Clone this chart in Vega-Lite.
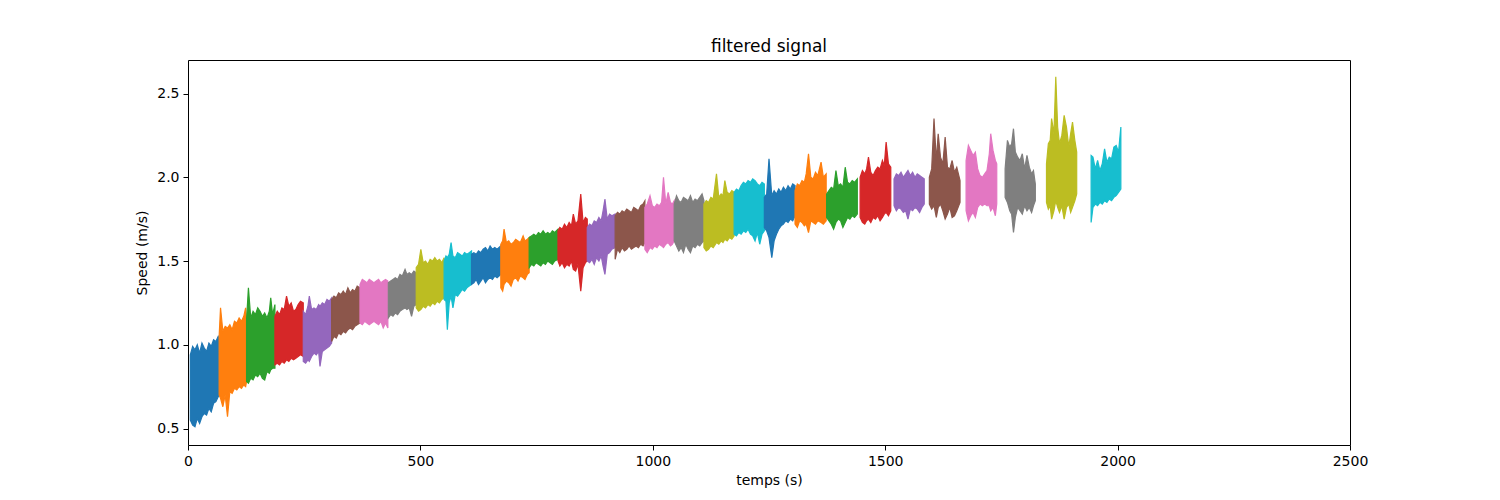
{
  "$schema": "https://vega.github.io/schema/vega-lite/v6.json",
  "autosize": {"type": "none"},
  "padding": {"left": 188, "top": 60, "right": 150, "bottom": 55},
  "width": 1162,
  "height": 385,
  "background": "white",
  "title": {"text": "filtered signal", "anchor": "middle"},
  "data": {
    "values": [
      {"s":1,"t":5,"lo":0.55,"hi":0.94},{"s":1,"t":10,"lo":0.52,"hi":0.99},{"s":1,"t":15,"lo":0.51,"hi":0.97},{"s":1,"t":20,"lo":0.56,"hi":1.0},{"s":1,"t":25,"lo":0.53,"hi":0.95},{"s":1,"t":30,"lo":0.57,"hi":1.01},{"s":1,"t":35,"lo":0.59,"hi":0.98},{"s":1,"t":40,"lo":0.58,"hi":0.96},{"s":1,"t":45,"lo":0.62,"hi":1.01},{"s":1,"t":50,"lo":0.6,"hi":0.99},{"s":1,"t":55,"lo":0.65,"hi":1.03},{"s":1,"t":60,"lo":0.66,"hi":1.02},{"s":1,"t":65,"lo":0.69,"hi":1.05},{"s":1,"t":67,"lo":0.7,"hi":1.04},
      {"s":2,"t":67,"lo":0.7,"hi":1.05},{"s":2,"t":70,"lo":0.68,"hi":1.22},{"s":2,"t":75,"lo":0.63,"hi":1.08},{"s":2,"t":80,"lo":0.7,"hi":1.11},{"s":2,"t":85,"lo":0.57,"hi":1.1},{"s":2,"t":90,"lo":0.72,"hi":1.12},{"s":2,"t":95,"lo":0.71,"hi":1.09},{"s":2,"t":100,"lo":0.74,"hi":1.14},{"s":2,"t":105,"lo":0.73,"hi":1.13},{"s":2,"t":110,"lo":0.75,"hi":1.16},{"s":2,"t":115,"lo":0.74,"hi":1.14},{"s":2,"t":120,"lo":0.76,"hi":1.17},{"s":2,"t":124,"lo":0.75,"hi":1.22},{"s":2,"t":126,"lo":0.78,"hi":1.15},
      {"s":3,"t":126,"lo":0.78,"hi":1.15},{"s":3,"t":130,"lo":0.77,"hi":1.34},{"s":3,"t":135,"lo":0.8,"hi":1.16},{"s":3,"t":140,"lo":0.79,"hi":1.2},{"s":3,"t":145,"lo":0.82,"hi":1.18},{"s":3,"t":150,"lo":0.81,"hi":1.22},{"s":3,"t":155,"lo":0.83,"hi":1.2},{"s":3,"t":160,"lo":0.8,"hi":1.17},{"s":3,"t":165,"lo":0.79,"hi":1.19},{"s":3,"t":170,"lo":0.84,"hi":1.16},{"s":3,"t":175,"lo":0.83,"hi":1.2},{"s":3,"t":178,"lo":0.85,"hi":1.28},{"s":3,"t":182,"lo":0.86,"hi":1.18},{"s":3,"t":187,"lo":0.86,"hi":1.24},
      {"s":4,"t":187,"lo":0.88,"hi":1.17},{"s":4,"t":192,"lo":0.89,"hi":1.2},{"s":4,"t":197,"lo":0.88,"hi":1.18},{"s":4,"t":202,"lo":0.9,"hi":1.22},{"s":4,"t":207,"lo":0.89,"hi":1.21},{"s":4,"t":212,"lo":0.91,"hi":1.29},{"s":4,"t":217,"lo":0.9,"hi":1.23},{"s":4,"t":222,"lo":0.92,"hi":1.25},{"s":4,"t":227,"lo":0.91,"hi":1.2},{"s":4,"t":232,"lo":0.92,"hi":1.21},{"s":4,"t":237,"lo":0.93,"hi":1.24},{"s":4,"t":242,"lo":0.94,"hi":1.26},{"s":4,"t":248,"lo":0.93,"hi":1.25},
      {"s":5,"t":248,"lo":0.9,"hi":1.2},{"s":5,"t":253,"lo":0.89,"hi":1.18},{"s":5,"t":258,"lo":0.91,"hi":1.23},{"s":5,"t":261,"lo":0.9,"hi":1.29},{"s":5,"t":266,"lo":0.93,"hi":1.21},{"s":5,"t":271,"lo":0.95,"hi":1.22},{"s":5,"t":276,"lo":0.94,"hi":1.21},{"s":5,"t":281,"lo":0.96,"hi":1.24},{"s":5,"t":284,"lo":0.87,"hi":1.23},{"s":5,"t":289,"lo":0.96,"hi":1.25},{"s":5,"t":294,"lo":0.97,"hi":1.24},{"s":5,"t":299,"lo":0.98,"hi":1.27},{"s":5,"t":304,"lo":0.99,"hi":1.26},{"s":5,"t":309,"lo":1.01,"hi":1.28},
      {"s":6,"t":309,"lo":1.02,"hi":1.27},{"s":6,"t":314,"lo":1.05,"hi":1.29},{"s":6,"t":319,"lo":1.04,"hi":1.28},{"s":6,"t":324,"lo":1.07,"hi":1.31},{"s":6,"t":329,"lo":1.06,"hi":1.3},{"s":6,"t":334,"lo":1.08,"hi":1.32},{"s":6,"t":339,"lo":1.07,"hi":1.3},{"s":6,"t":344,"lo":1.09,"hi":1.34},{"s":6,"t":349,"lo":1.1,"hi":1.31},{"s":6,"t":354,"lo":1.09,"hi":1.33},{"s":6,"t":359,"lo":1.11,"hi":1.32},{"s":6,"t":364,"lo":1.12,"hi":1.35},{"s":6,"t":370,"lo":1.13,"hi":1.34},
      {"s":7,"t":370,"lo":1.13,"hi":1.36},{"s":7,"t":375,"lo":1.12,"hi":1.39},{"s":7,"t":380,"lo":1.14,"hi":1.38},{"s":7,"t":385,"lo":1.13,"hi":1.37},{"s":7,"t":390,"lo":1.12,"hi":1.39},{"s":7,"t":395,"lo":1.13,"hi":1.38},{"s":7,"t":400,"lo":1.14,"hi":1.37},{"s":7,"t":405,"lo":1.13,"hi":1.38},{"s":7,"t":410,"lo":1.12,"hi":1.39},{"s":7,"t":415,"lo":1.14,"hi":1.37},{"s":7,"t":420,"lo":1.1,"hi":1.38},{"s":7,"t":425,"lo":1.13,"hi":1.39},{"s":7,"t":430,"lo":1.1,"hi":1.38},
      {"s":8,"t":431,"lo":1.16,"hi":1.37},{"s":8,"t":436,"lo":1.18,"hi":1.38},{"s":8,"t":441,"lo":1.17,"hi":1.39},{"s":8,"t":446,"lo":1.19,"hi":1.4},{"s":8,"t":451,"lo":1.18,"hi":1.39},{"s":8,"t":456,"lo":1.2,"hi":1.42},{"s":8,"t":461,"lo":1.21,"hi":1.41},{"s":8,"t":467,"lo":1.22,"hi":1.45},{"s":8,"t":471,"lo":1.21,"hi":1.42},{"s":8,"t":476,"lo":1.22,"hi":1.43},{"s":8,"t":481,"lo":1.17,"hi":1.42},{"s":8,"t":486,"lo":1.23,"hi":1.44},{"s":8,"t":491,"lo":1.24,"hi":1.43},
      {"s":9,"t":491,"lo":1.22,"hi":1.46},{"s":9,"t":496,"lo":1.2,"hi":1.48},{"s":9,"t":501,"lo":1.21,"hi":1.57},{"s":9,"t":506,"lo":1.23,"hi":1.49},{"s":9,"t":511,"lo":1.22,"hi":1.5},{"s":9,"t":516,"lo":1.24,"hi":1.48},{"s":9,"t":521,"lo":1.23,"hi":1.51},{"s":9,"t":526,"lo":1.25,"hi":1.5},{"s":9,"t":531,"lo":1.24,"hi":1.52},{"s":9,"t":536,"lo":1.26,"hi":1.5},{"s":9,"t":541,"lo":1.25,"hi":1.51},{"s":9,"t":546,"lo":1.27,"hi":1.49},{"s":9,"t":551,"lo":1.28,"hi":1.52},
      {"s":10,"t":551,"lo":1.27,"hi":1.5},{"s":10,"t":555,"lo":1.26,"hi":1.53},{"s":10,"t":558,"lo":1.09,"hi":1.52},{"s":10,"t":562,"lo":1.25,"hi":1.54},{"s":10,"t":566,"lo":1.29,"hi":1.61},{"s":10,"t":570,"lo":1.22,"hi":1.53},{"s":10,"t":575,"lo":1.3,"hi":1.52},{"s":10,"t":580,"lo":1.29,"hi":1.55},{"s":10,"t":585,"lo":1.31,"hi":1.54},{"s":10,"t":590,"lo":1.33,"hi":1.53},{"s":10,"t":595,"lo":1.32,"hi":1.55},{"s":10,"t":600,"lo":1.34,"hi":1.54},{"s":10,"t":605,"lo":1.35,"hi":1.55},{"s":10,"t":610,"lo":1.36,"hi":1.56},
      {"s":11,"t":610,"lo":1.36,"hi":1.54},{"s":11,"t":615,"lo":1.37,"hi":1.55},{"s":11,"t":620,"lo":1.39,"hi":1.54},{"s":11,"t":625,"lo":1.36,"hi":1.56},{"s":11,"t":630,"lo":1.38,"hi":1.55},{"s":11,"t":635,"lo":1.4,"hi":1.57},{"s":11,"t":640,"lo":1.37,"hi":1.58},{"s":11,"t":645,"lo":1.39,"hi":1.56},{"s":11,"t":650,"lo":1.4,"hi":1.59},{"s":11,"t":655,"lo":1.39,"hi":1.57},{"s":11,"t":660,"lo":1.41,"hi":1.58},{"s":11,"t":665,"lo":1.4,"hi":1.57},{"s":11,"t":673,"lo":1.42,"hi":1.59},
      {"s":12,"t":673,"lo":1.34,"hi":1.6},{"s":12,"t":677,"lo":1.32,"hi":1.62},{"s":12,"t":680,"lo":1.36,"hi":1.69},{"s":12,"t":685,"lo":1.38,"hi":1.61},{"s":12,"t":690,"lo":1.37,"hi":1.62},{"s":12,"t":695,"lo":1.35,"hi":1.6},{"s":12,"t":700,"lo":1.39,"hi":1.61},{"s":12,"t":705,"lo":1.4,"hi":1.63},{"s":12,"t":710,"lo":1.38,"hi":1.62},{"s":12,"t":715,"lo":1.41,"hi":1.61},{"s":12,"t":721,"lo":1.4,"hi":1.65},{"s":12,"t":725,"lo":1.39,"hi":1.62},{"s":12,"t":730,"lo":1.42,"hi":1.63},{"s":12,"t":734,"lo":1.43,"hi":1.64},
      {"s":13,"t":734,"lo":1.46,"hi":1.64},{"s":13,"t":739,"lo":1.48,"hi":1.65},{"s":13,"t":744,"lo":1.47,"hi":1.66},{"s":13,"t":749,"lo":1.49,"hi":1.65},{"s":13,"t":754,"lo":1.48,"hi":1.67},{"s":13,"t":759,"lo":1.47,"hi":1.66},{"s":13,"t":764,"lo":1.49,"hi":1.68},{"s":13,"t":769,"lo":1.48,"hi":1.66},{"s":13,"t":774,"lo":1.5,"hi":1.67},{"s":13,"t":779,"lo":1.49,"hi":1.66},{"s":13,"t":784,"lo":1.48,"hi":1.68},{"s":13,"t":789,"lo":1.5,"hi":1.67},{"s":13,"t":796,"lo":1.51,"hi":1.69},
      {"s":14,"t":796,"lo":1.5,"hi":1.68},{"s":14,"t":800,"lo":1.47,"hi":1.7},{"s":14,"t":805,"lo":1.49,"hi":1.69},{"s":14,"t":810,"lo":1.46,"hi":1.72},{"s":14,"t":815,"lo":1.48,"hi":1.7},{"s":14,"t":820,"lo":1.47,"hi":1.73},{"s":14,"t":825,"lo":1.5,"hi":1.71},{"s":14,"t":829,"lo":1.45,"hi":1.78},{"s":14,"t":834,"lo":1.44,"hi":1.72},{"s":14,"t":839,"lo":1.48,"hi":1.74},{"s":14,"t":845,"lo":1.32,"hi":1.9},{"s":14,"t":850,"lo":1.46,"hi":1.73},{"s":14,"t":855,"lo":1.49,"hi":1.76},{"s":14,"t":859,"lo":1.5,"hi":1.75},
      {"s":15,"t":859,"lo":1.5,"hi":1.7},{"s":15,"t":864,"lo":1.49,"hi":1.72},{"s":15,"t":869,"lo":1.51,"hi":1.71},{"s":15,"t":874,"lo":1.48,"hi":1.74},{"s":15,"t":879,"lo":1.52,"hi":1.73},{"s":15,"t":884,"lo":1.5,"hi":1.76},{"s":15,"t":889,"lo":1.53,"hi":1.74},{"s":15,"t":893,"lo":1.47,"hi":1.8},{"s":15,"t":897,"lo":1.42,"hi":1.87},{"s":15,"t":902,"lo":1.54,"hi":1.75},{"s":15,"t":907,"lo":1.55,"hi":1.78},{"s":15,"t":912,"lo":1.57,"hi":1.77},{"s":15,"t":919,"lo":1.58,"hi":1.78},
      {"s":16,"t":919,"lo":1.51,"hi":1.77},{"s":16,"t":924,"lo":1.57,"hi":1.79},{"s":16,"t":929,"lo":1.55,"hi":1.78},{"s":16,"t":934,"lo":1.58,"hi":1.8},{"s":16,"t":939,"lo":1.56,"hi":1.79},{"s":16,"t":944,"lo":1.57,"hi":1.81},{"s":16,"t":949,"lo":1.59,"hi":1.8},{"s":16,"t":954,"lo":1.57,"hi":1.79},{"s":16,"t":959,"lo":1.58,"hi":1.82},{"s":16,"t":964,"lo":1.59,"hi":1.81},{"s":16,"t":969,"lo":1.58,"hi":1.8},{"s":16,"t":974,"lo":1.6,"hi":1.83},{"s":16,"t":979,"lo":1.59,"hi":1.84},{"s":16,"t":983,"lo":1.61,"hi":1.86},
      {"s":17,"t":983,"lo":1.57,"hi":1.82},{"s":17,"t":988,"lo":1.55,"hi":1.84},{"s":17,"t":994,"lo":1.58,"hi":1.89},{"s":17,"t":999,"lo":1.57,"hi":1.83},{"s":17,"t":1004,"lo":1.59,"hi":1.82},{"s":17,"t":1009,"lo":1.58,"hi":1.84},{"s":17,"t":1014,"lo":1.6,"hi":1.83},{"s":17,"t":1019,"lo":1.59,"hi":1.85},{"s":17,"t":1023,"lo":1.58,"hi":2.0},{"s":17,"t":1028,"lo":1.6,"hi":1.84},{"s":17,"t":1033,"lo":1.61,"hi":1.91},{"s":17,"t":1038,"lo":1.59,"hi":1.85},{"s":17,"t":1042,"lo":1.6,"hi":1.84},{"s":17,"t":1046,"lo":1.62,"hi":1.86},
      {"s":18,"t":1046,"lo":1.62,"hi":1.84},{"s":18,"t":1051,"lo":1.59,"hi":1.89},{"s":18,"t":1056,"lo":1.56,"hi":1.86},{"s":18,"t":1061,"lo":1.58,"hi":1.85},{"s":18,"t":1066,"lo":1.55,"hi":1.88},{"s":18,"t":1071,"lo":1.6,"hi":1.87},{"s":18,"t":1076,"lo":1.57,"hi":1.86},{"s":18,"t":1081,"lo":1.55,"hi":1.89},{"s":18,"t":1086,"lo":1.59,"hi":1.85},{"s":18,"t":1091,"lo":1.58,"hi":1.87},{"s":18,"t":1096,"lo":1.6,"hi":1.86},{"s":18,"t":1101,"lo":1.59,"hi":1.88},{"s":18,"t":1106,"lo":1.61,"hi":1.9},{"s":18,"t":1110,"lo":1.62,"hi":1.86},
      {"s":19,"t":1110,"lo":1.58,"hi":1.84},{"s":19,"t":1115,"lo":1.56,"hi":1.86},{"s":19,"t":1120,"lo":1.57,"hi":1.85},{"s":19,"t":1125,"lo":1.59,"hi":1.88},{"s":19,"t":1130,"lo":1.58,"hi":1.87},{"s":19,"t":1137,"lo":1.61,"hi":2.02},{"s":19,"t":1142,"lo":1.6,"hi":1.88},{"s":19,"t":1147,"lo":1.62,"hi":1.9},{"s":19,"t":1151,"lo":1.61,"hi":1.89},{"s":19,"t":1155,"lo":1.63,"hi":1.98},{"s":19,"t":1160,"lo":1.62,"hi":1.91},{"s":19,"t":1165,"lo":1.64,"hi":1.9},{"s":19,"t":1170,"lo":1.63,"hi":1.92},{"s":19,"t":1175,"lo":1.65,"hi":1.91},
      {"s":20,"t":1175,"lo":1.66,"hi":1.91},{"s":20,"t":1180,"lo":1.65,"hi":1.93},{"s":20,"t":1185,"lo":1.67,"hi":1.92},{"s":20,"t":1190,"lo":1.66,"hi":1.95},{"s":20,"t":1195,"lo":1.68,"hi":1.97},{"s":20,"t":1200,"lo":1.67,"hi":1.96},{"s":20,"t":1205,"lo":1.69,"hi":1.98},{"s":20,"t":1210,"lo":1.66,"hi":1.97},{"s":20,"t":1215,"lo":1.65,"hi":1.99},{"s":20,"t":1220,"lo":1.62,"hi":1.98},{"s":20,"t":1225,"lo":1.67,"hi":1.96},{"s":20,"t":1230,"lo":1.6,"hi":1.95},{"s":20,"t":1235,"lo":1.66,"hi":1.97},{"s":20,"t":1240,"lo":1.68,"hi":1.96},
      {"s":21,"t":1240,"lo":1.7,"hi":1.88},{"s":21,"t":1245,"lo":1.68,"hi":1.9},{"s":21,"t":1250,"lo":1.64,"hi":2.11},{"s":21,"t":1256,"lo":1.52,"hi":1.89},{"s":21,"t":1261,"lo":1.62,"hi":1.92},{"s":21,"t":1266,"lo":1.66,"hi":1.9},{"s":21,"t":1271,"lo":1.69,"hi":1.93},{"s":21,"t":1276,"lo":1.71,"hi":1.91},{"s":21,"t":1281,"lo":1.72,"hi":1.94},{"s":21,"t":1286,"lo":1.74,"hi":1.92},{"s":21,"t":1291,"lo":1.73,"hi":1.95},{"s":21,"t":1296,"lo":1.75,"hi":1.93},{"s":21,"t":1301,"lo":1.74,"hi":1.96},{"s":21,"t":1306,"lo":1.77,"hi":1.95},
      {"s":22,"t":1306,"lo":1.72,"hi":1.92},{"s":22,"t":1311,"lo":1.7,"hi":1.96},{"s":22,"t":1316,"lo":1.74,"hi":1.95},{"s":22,"t":1321,"lo":1.73,"hi":1.98},{"s":22,"t":1326,"lo":1.71,"hi":1.97},{"s":22,"t":1330,"lo":1.72,"hi":2.02},{"s":22,"t":1335,"lo":1.67,"hi":2.14},{"s":22,"t":1340,"lo":1.74,"hi":2.0},{"s":22,"t":1345,"lo":1.73,"hi":1.99},{"s":22,"t":1350,"lo":1.72,"hi":2.03},{"s":22,"t":1355,"lo":1.74,"hi":2.01},{"s":22,"t":1362,"lo":1.73,"hi":2.09},{"s":22,"t":1367,"lo":1.72,"hi":2.0},{"s":22,"t":1373,"lo":1.74,"hi":2.02},
      {"s":23,"t":1374,"lo":1.76,"hi":1.9},{"s":23,"t":1379,"lo":1.74,"hi":1.92},{"s":23,"t":1384,"lo":1.72,"hi":1.94},{"s":23,"t":1389,"lo":1.69,"hi":1.93},{"s":23,"t":1394,"lo":1.73,"hi":2.04},{"s":23,"t":1399,"lo":1.75,"hi":1.95},{"s":23,"t":1404,"lo":1.74,"hi":1.96},{"s":23,"t":1409,"lo":1.7,"hi":1.94},{"s":23,"t":1414,"lo":1.73,"hi":2.06},{"s":23,"t":1419,"lo":1.76,"hi":1.97},{"s":23,"t":1424,"lo":1.75,"hi":1.96},{"s":23,"t":1429,"lo":1.77,"hi":1.98},{"s":23,"t":1434,"lo":1.76,"hi":1.97},{"s":23,"t":1440,"lo":1.78,"hi":1.99},
      {"s":24,"t":1446,"lo":1.76,"hi":2.0},{"s":24,"t":1451,"lo":1.73,"hi":2.04},{"s":24,"t":1456,"lo":1.72,"hi":2.02},{"s":24,"t":1460,"lo":1.74,"hi":2.05},{"s":24,"t":1464,"lo":1.75,"hi":2.12},{"s":24,"t":1469,"lo":1.73,"hi":2.03},{"s":24,"t":1474,"lo":1.76,"hi":2.01},{"s":24,"t":1479,"lo":1.75,"hi":2.04},{"s":24,"t":1484,"lo":1.77,"hi":2.06},{"s":24,"t":1489,"lo":1.74,"hi":2.05},{"s":24,"t":1494,"lo":1.76,"hi":2.1},{"s":24,"t":1498,"lo":1.78,"hi":2.07},{"s":24,"t":1502,"lo":1.79,"hi":2.21},{"s":24,"t":1507,"lo":1.77,"hi":2.08},{"s":24,"t":1512,"lo":1.8,"hi":2.06},
      {"s":25,"t":1519,"lo":1.83,"hi":1.99},{"s":25,"t":1524,"lo":1.8,"hi":2.02},{"s":25,"t":1529,"lo":1.82,"hi":2.01},{"s":25,"t":1534,"lo":1.81,"hi":2.03},{"s":25,"t":1539,"lo":1.79,"hi":2.0},{"s":25,"t":1544,"lo":1.8,"hi":2.02},{"s":25,"t":1549,"lo":1.75,"hi":2.04},{"s":25,"t":1554,"lo":1.81,"hi":2.01},{"s":25,"t":1559,"lo":1.8,"hi":2.03},{"s":25,"t":1564,"lo":1.82,"hi":2.0},{"s":25,"t":1569,"lo":1.81,"hi":2.02},{"s":25,"t":1574,"lo":1.79,"hi":2.01},{"s":25,"t":1579,"lo":1.82,"hi":2.0},{"s":25,"t":1584,"lo":1.84,"hi":1.99},
      {"s":26,"t":1595,"lo":1.84,"hi":2.0},{"s":26,"t":1600,"lo":1.81,"hi":2.05},{"s":26,"t":1605,"lo":1.83,"hi":2.35},{"s":26,"t":1610,"lo":1.76,"hi":2.1},{"s":26,"t":1614,"lo":1.82,"hi":2.26},{"s":26,"t":1619,"lo":1.84,"hi":2.12},{"s":26,"t":1624,"lo":1.8,"hi":2.08},{"s":26,"t":1629,"lo":1.75,"hi":2.24},{"s":26,"t":1634,"lo":1.78,"hi":2.06},{"s":26,"t":1639,"lo":1.82,"hi":2.05},{"s":26,"t":1644,"lo":1.76,"hi":2.1},{"s":26,"t":1649,"lo":1.77,"hi":2.03},{"s":26,"t":1654,"lo":1.8,"hi":2.06},{"s":26,"t":1661,"lo":1.85,"hi":1.98},
      {"s":27,"t":1674,"lo":1.8,"hi":2.1},{"s":27,"t":1679,"lo":1.74,"hi":2.19},{"s":27,"t":1684,"lo":1.77,"hi":2.16},{"s":27,"t":1689,"lo":1.79,"hi":2.13},{"s":27,"t":1694,"lo":1.76,"hi":2.15},{"s":27,"t":1699,"lo":1.82,"hi":2.05},{"s":27,"t":1704,"lo":1.84,"hi":2.01},{"s":27,"t":1709,"lo":1.83,"hi":2.0},{"s":27,"t":1714,"lo":1.84,"hi":2.02},{"s":27,"t":1719,"lo":1.83,"hi":2.04},{"s":27,"t":1724,"lo":1.83,"hi":2.14},{"s":27,"t":1727,"lo":1.8,"hi":2.26},{"s":27,"t":1732,"lo":1.82,"hi":2.16},{"s":27,"t":1737,"lo":1.77,"hi":2.1},{"s":27,"t":1740,"lo":1.84,"hi":2.08},
      {"s":28,"t":1758,"lo":1.88,"hi":2.05},{"s":28,"t":1763,"lo":1.85,"hi":2.22},{"s":28,"t":1768,"lo":1.8,"hi":2.18},{"s":28,"t":1772,"lo":1.78,"hi":2.2},{"s":28,"t":1776,"lo":1.67,"hi":2.29},{"s":28,"t":1780,"lo":1.76,"hi":2.15},{"s":28,"t":1785,"lo":1.82,"hi":2.12},{"s":28,"t":1790,"lo":1.8,"hi":2.1},{"s":28,"t":1795,"lo":1.78,"hi":2.14},{"s":28,"t":1800,"lo":1.83,"hi":2.05},{"s":28,"t":1805,"lo":1.8,"hi":2.13},{"s":28,"t":1810,"lo":1.82,"hi":2.06},{"s":28,"t":1815,"lo":1.79,"hi":2.02},{"s":28,"t":1819,"lo":1.83,"hi":2.04},{"s":28,"t":1823,"lo":1.86,"hi":1.96},
      {"s":29,"t":1847,"lo":1.85,"hi":2.08},{"s":29,"t":1851,"lo":1.81,"hi":2.2},{"s":29,"t":1855,"lo":1.83,"hi":2.22},{"s":29,"t":1858,"lo":1.75,"hi":2.35},{"s":29,"t":1863,"lo":1.8,"hi":2.26},{"s":29,"t":1867,"lo":1.86,"hi":2.6},{"s":29,"t":1871,"lo":1.82,"hi":2.3},{"s":29,"t":1875,"lo":1.79,"hi":2.2},{"s":29,"t":1880,"lo":1.83,"hi":2.25},{"s":29,"t":1885,"lo":1.75,"hi":2.37},{"s":29,"t":1890,"lo":1.82,"hi":2.3},{"s":29,"t":1895,"lo":1.84,"hi":2.18},{"s":29,"t":1899,"lo":1.79,"hi":2.26},{"s":29,"t":1903,"lo":1.82,"hi":2.33},{"s":29,"t":1908,"lo":1.86,"hi":2.22},{"s":29,"t":1912,"lo":1.9,"hi":2.15},
      {"s":30,"t":1943,"lo":1.73,"hi":2.13},{"s":30,"t":1947,"lo":1.82,"hi":2.12},{"s":30,"t":1952,"lo":1.84,"hi":2.05},{"s":30,"t":1957,"lo":1.83,"hi":2.1},{"s":30,"t":1962,"lo":1.85,"hi":2.04},{"s":30,"t":1967,"lo":1.84,"hi":2.08},{"s":30,"t":1972,"lo":1.86,"hi":2.17},{"s":30,"t":1977,"lo":1.85,"hi":2.09},{"s":30,"t":1982,"lo":1.87,"hi":2.12},{"s":30,"t":1987,"lo":1.86,"hi":2.11},{"s":30,"t":1992,"lo":1.88,"hi":2.18},{"s":30,"t":1997,"lo":1.89,"hi":2.19},{"s":30,"t":2002,"lo":1.91,"hi":2.15},{"s":30,"t":2007,"lo":1.93,"hi":2.3}
    ]
  },
  "mark": {"type": "area", "interpolate": "linear", "strokeWidth": 1.2, "opacity": 1},
  "encoding": {
    "x": {
      "field": "t",
      "type": "quantitative",
      "scale": {"domain": [0, 2500], "nice": false, "zero": false},
      "axis": {"title": "temps (s)", "values": [0, 500, 1000, 1500, 2000, 2500], "format": "d"}
    },
    "y": {
      "field": "hi",
      "type": "quantitative",
      "stack": null,
      "scale": {"domain": [0.4015, 2.7], "nice": false, "zero": false},
      "axis": {"title": "Speed (m/s)", "values": [0.5, 1.0, 1.5, 2.0, 2.5], "format": ".1f"}
    },
    "y2": {"field": "lo"},
    "detail": {"field": "s", "type": "nominal"},
    "color": {
      "field": "s",
      "type": "nominal",
      "legend": null,
      "scale": {
        "domain": [1,2,3,4,5,6,7,8,9,10,11,12,13,14,15,16,17,18,19,20,21,22,23,24,25,26,27,28,29,30],
        "range": ["#1f77b4","#ff7f0e","#2ca02c","#d62728","#9467bd","#8c564b","#e377c2","#7f7f7f","#bcbd22","#17becf","#1f77b4","#ff7f0e","#2ca02c","#d62728","#9467bd","#8c564b","#e377c2","#7f7f7f","#bcbd22","#17becf","#1f77b4","#ff7f0e","#2ca02c","#d62728","#9467bd","#8c564b","#e377c2","#7f7f7f","#bcbd22","#17becf"]
      }
    },
    "stroke": {
      "field": "s",
      "type": "nominal",
      "legend": null,
      "scale": {
        "domain": [1,2,3,4,5,6,7,8,9,10,11,12,13,14,15,16,17,18,19,20,21,22,23,24,25,26,27,28,29,30],
        "range": ["#1f77b4","#ff7f0e","#2ca02c","#d62728","#9467bd","#8c564b","#e377c2","#7f7f7f","#bcbd22","#17becf","#1f77b4","#ff7f0e","#2ca02c","#d62728","#9467bd","#8c564b","#e377c2","#7f7f7f","#bcbd22","#17becf","#1f77b4","#ff7f0e","#2ca02c","#d62728","#9467bd","#8c564b","#e377c2","#7f7f7f","#bcbd22","#17becf"]
      }
    }
  },
  "config": {
    "font": "DejaVu Sans",
    "view": {"stroke": "black", "strokeWidth": 1},
    "axis": {
      "grid": false,
      "domain": false,
      "ticks": true,
      "tickColor": "black",
      "tickSize": 5,
      "tickWidth": 1,
      "labelFont": "DejaVu Sans",
      "labelFontSize": 14,
      "labelColor": "black",
      "labelPadding": 4,
      "labelFlush": false,
      "labelOverlap": false,
      "titleFont": "DejaVu Sans",
      "titleFontSize": 14,
      "titleFontWeight": "normal",
      "titleColor": "black"
    },
    "axisX": {"titlePadding": 5},
    "axisY": {"titlePadding": 7},
    "title": {"font": "DejaVu Sans", "fontSize": 17, "fontWeight": "normal", "color": "black", "offset": 4}
  }
}
